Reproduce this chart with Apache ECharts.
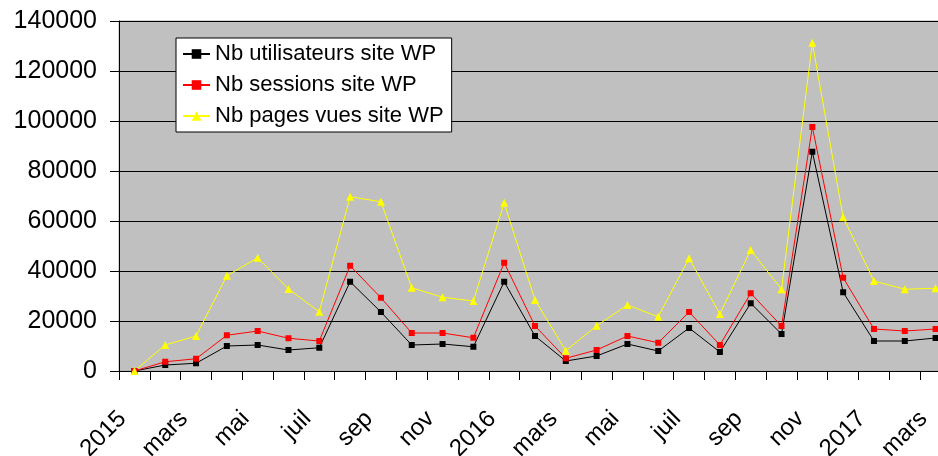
<!DOCTYPE html>
<html>
<head>
<meta charset="utf-8">
<script src="https://cdn.jsdelivr.net/npm/echarts@6/dist/echarts.min.js"></script>
<style>
html,body{margin:0;padding:0;background:#fff;overflow:hidden;}
#c{width:938px;height:456px;}
</style>
</head>
<body>
<div id="c"></div>
<script>
var categories = ['2015','févr','mars','avr','mai','juin','juil','août','sep','oct','nov','déc',
  '2016','févr','mars','avr','mai','juin','juil','août','sep','oct','nov','déc',
  '2017','févr','mars'];
var utilisateurs = [0,2400,3100,10000,10400,8400,9300,35700,23600,10400,10800,9700,
  35700,14000,4000,6000,10800,8000,17200,7600,27100,14800,87700,31500,12000,12000,13200];
var sessions = [0,3700,4900,14300,16000,13100,12000,42100,29300,15200,15200,13300,
  43300,18000,5100,8400,14000,11300,23600,10400,31100,18000,97600,37300,16800,16000,16800];
var pagesVues = [0,10400,14000,38100,45300,32800,23700,69700,67700,33300,29500,28000,
  67300,28400,8100,18100,26400,21700,45100,22800,48400,32700,131300,61500,36000,32700,33100];
var seriesNames = ['Nb utilisateurs site WP','Nb sessions site WP','Nb pages vues site WP'];
var yTicks = {min:0, max:140000, interval:20000};

var font = '"Liberation Sans", Arial, sans-serif';
var chart = echarts.init(document.getElementById('c'), null, {renderer:'canvas'});
chart.setOption({
  backgroundColor:'#ffffff',
  animation:false,
  grid:{left:119, top:21, width:832, bottom:85, outerBoundsMode:'none', containLabel:false,
        show:true, backgroundColor:'#C0C0C0', borderColor:'#a8a8a8', borderWidth:1},
  legend:{
    orient:'vertical', left:176, top:38,
    backgroundColor:'#ffffff', borderColor:'#000', borderWidth:1,
    padding:[5,8,5,6], itemGap:9, itemWidth:27, itemHeight:12, itemTextGap:8,
    textStyle:{fontFamily:font, fontSize:22, color:'#000', lineHeight:22},
    data:seriesNames
  },
  xAxis:{
    type:'category', data:categories, boundaryGap:true,
    axisLine:{lineStyle:{color:'#000', width:1}},
    axisTick:{show:true, interval:0, length:9, lineStyle:{color:'#000'}},
    axisLabel:{interval:1, rotate:45, margin:32, padding:[0,17,0,0], fontFamily:font, fontSize:24, color:'#000'},
    splitLine:{show:false}
  },
  yAxis:{
    type:'value', min:yTicks.min, max:yTicks.max, interval:yTicks.interval,
    axisLine:{show:true, lineStyle:{color:'#000'}},
    axisTick:{show:true, length:9, lineStyle:{color:'#000'}},
    axisLabel:{margin:22, fontFamily:font, fontSize:25, color:'#000', formatter:function(v){return String(v);}},
    splitLine:{show:true, lineStyle:{color:'#000', width:1}}
  },
  series:[
    {name:seriesNames[0], type:'line', data:utilisateurs, symbol:'rect', symbolSize:6,
     lineStyle:{color:'#000', width:1}, itemStyle:{color:'#000'}},
    {name:seriesNames[1], type:'line', data:sessions, symbol:'rect', symbolSize:6,
     lineStyle:{color:'#ff0000', width:1}, itemStyle:{color:'#ff0000'}},
    {name:seriesNames[2], type:'line', data:pagesVues, symbol:'triangle', symbolSize:8,
     lineStyle:{color:'#ffff00', width:1}, itemStyle:{color:'#ffff00'}}
  ]
});
</script>
</body>
</html>
